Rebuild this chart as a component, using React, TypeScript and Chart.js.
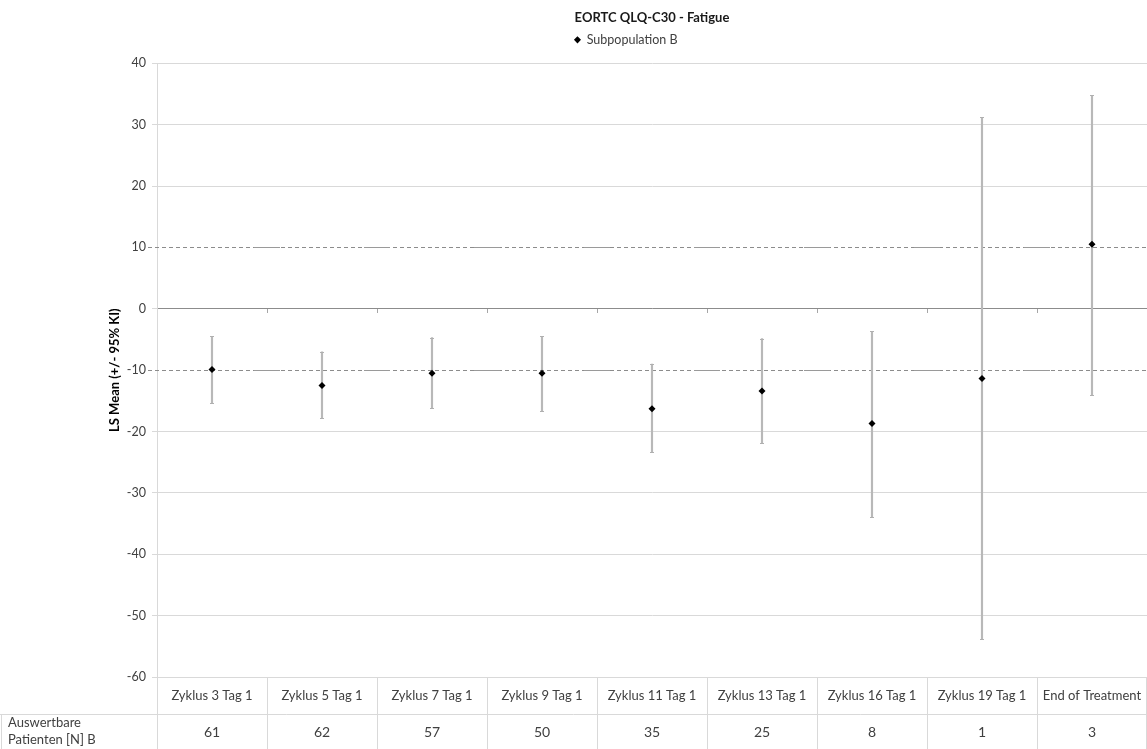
import React, { useEffect, useRef } from 'react';
import { Chart, registerables } from 'chart.js';

Chart.register(...registerables);

const TITLE = 'EORTC QLQ-C30 - Fatigue';
const SERIES_LABEL = 'Subpopulation B';
const Y_TITLE = 'LS Mean (+/- 95% KI)';
const CATEGORIES = [
  'Zyklus 3 Tag 1',
  'Zyklus 5 Tag 1',
  'Zyklus 7 Tag 1',
  'Zyklus 9 Tag 1',
  'Zyklus 11 Tag 1',
  'Zyklus 13 Tag 1',
  'Zyklus 16 Tag 1',
  'Zyklus 19 Tag 1',
  'End of Treatment',
];
const LS_MEAN = [-9.9, -12.5, -10.5, -10.5, -16.3, -13.4, -18.7, -11.35, 10.5];
const CI_LOWER = [-15.4, -17.8, -16.2, -16.6, -23.4, -21.9, -33.9, -53.8, -14.0];
const CI_UPPER = [-4.5, -7.0, -4.7, -4.5, -9.0, -4.85, -3.7, 31.2, 34.8];
const N_PATIENTS = [61, 62, 57, 50, 35, 25, 8, 1, 3];
const N_ROW_LABEL = ['Auswertbare', 'Patienten [N] B'];
const REFERENCE_LINES = [10, -10];
const Y_MIN = -60;
const Y_MAX = 40;
const Y_STEP = 10;

const FONT = 'Lato, "Open Sans", "DejaVu Sans", sans-serif';
const W = 1147;
const H = 749;
const ROW1_H = 37;
const GRID = '#d9d9d9';

const refLinesPlugin = {
  id: 'refLines',
  beforeDatasetsDraw(chart: any) {
    const { ctx, chartArea, scales } = chart;
    const y = scales.y;
    const x = scales.x;
    ctx.save();
    REFERENCE_LINES.forEach((v) => {
      const py = Math.round(y.getPixelForValue(v)) + 0.5;
      ctx.strokeStyle = '#8c8c8c';
      ctx.lineWidth = 1;
      ctx.setLineDash([4, 3]);
      ctx.beginPath();
      ctx.moveTo(chartArea.left - 9, py);
      ctx.lineTo(chartArea.right, py);
      ctx.stroke();
      ctx.setLineDash([]);
      ctx.strokeStyle = '#9a9a9a';
      for (let i = 1; i < CATEGORIES.length; i++) {
        const bx = (x.getPixelForValue(i - 1) + x.getPixelForValue(i)) / 2;
        ctx.beginPath();
        ctx.moveTo(bx - 13, py);
        ctx.lineTo(bx + 13, py);
        ctx.stroke();
      }
    });
    ctx.restore();
  },
};

const errorCapsPlugin = {
  id: 'errorCaps',
  afterDatasetsDraw(chart: any) {
    const { ctx, scales } = chart;
    const x = scales.x;
    const y = scales.y;
    ctx.save();
    ctx.strokeStyle = '#b0b0b0';
    ctx.lineWidth = 1;
    CATEGORIES.forEach((_, i) => {
      const px = x.getPixelForValue(i);
      [CI_LOWER[i], CI_UPPER[i]].forEach((v) => {
        const py = Math.round(y.getPixelForValue(v)) + 0.5;
        ctx.beginPath();
        ctx.moveTo(px - 2, py);
        ctx.lineTo(px + 2, py);
        ctx.stroke();
      });
    });
    ctx.restore();
  },
};

const tablePlugin = {
  id: 'nTable',
  afterDraw(chart: any) {
    const { ctx, chartArea, scales } = chart;
    const x = scales.x;
    const top = chartArea.bottom;
    const mid = top + ROW1_H;
    const bottom = H;
    const half = (x.getPixelForValue(1) - x.getPixelForValue(0)) / 2;
    ctx.save();
    ctx.strokeStyle = GRID;
    ctx.lineWidth = 1;
    ctx.beginPath();
    ctx.moveTo(chartArea.left, top + 0.5);
    ctx.lineTo(chartArea.right, top + 0.5);
    ctx.moveTo(0, mid + 0.5);
    ctx.lineTo(chartArea.right, mid + 0.5);
    ctx.moveTo(1.5, mid);
    ctx.lineTo(1.5, bottom);
    ctx.stroke();
    for (let i = 0; i <= CATEGORIES.length; i++) {
      const bx = Math.min(Math.round(x.getPixelForValue(i) - half) + 0.5, W - 0.5);
      ctx.beginPath();
      ctx.moveTo(bx, top);
      ctx.lineTo(bx, bottom);
      ctx.stroke();
    }
    ctx.fillStyle = '#404040';
    ctx.textAlign = 'center';
    ctx.textBaseline = 'middle';
    ctx.font = `13px ${FONT}`;
    CATEGORIES.forEach((c, i) => {
      ctx.fillText(c, x.getPixelForValue(i), top + ROW1_H / 2);
    });
    ctx.font = `14px ${FONT}`;
    N_PATIENTS.forEach((n, i) => {
      ctx.fillText(String(n), x.getPixelForValue(i), mid + (bottom - mid) / 2 + 1);
    });
    ctx.textAlign = 'left';
    ctx.font = `13px ${FONT}`;
    ctx.fillText(N_ROW_LABEL[0], 8, mid + 9);
    ctx.fillText(N_ROW_LABEL[1], 8, mid + 26);
    ctx.restore();
  },
};

export default function App() {
  const ref = useRef<HTMLCanvasElement | null>(null);

  useEffect(() => {
    if (!ref.current) return;
    const chart = new Chart(ref.current, {
      type: 'bar',
      data: {
        labels: CATEGORIES,
        datasets: [
          {
            type: 'line',
            label: SERIES_LABEL,
            data: LS_MEAN,
            showLine: false,
            pointStyle: 'rectRot',
            pointRadius: 3.5,
            pointBackgroundColor: '#000000',
            pointBorderColor: '#000000',
            pointBorderWidth: 0,
            backgroundColor: '#000000',
            borderColor: '#000000',
            order: 0,
          } as any,
          {
            type: 'bar',
            label: 'KI',
            data: CATEGORIES.map((_, i) => [CI_LOWER[i], CI_UPPER[i]]),
            backgroundColor: '#b8b8b8',
            borderWidth: 0,
            barThickness: 1.5,
            order: 1,
          } as any,
        ],
      },
      options: {
        responsive: false,
        animation: false,
        layout: { autoPadding: false, padding: { left: 105, right: 0, top: 0, bottom: H - 677 } },
        plugins: {
          title: {
            display: true,
            text: TITLE,
            fullSize: false,
            color: '#1a1a1a',
            font: { family: FONT, size: 13, weight: 'bold' },
            padding: { top: 10, bottom: 0 },
          },
          legend: {
            display: true,
            fullSize: true,
            weight: 1800,
            labels: {
              filter: (item: any) => item.datasetIndex === 0,
              usePointStyle: true,
              boxHeight: 5,
              boxWidth: 6,
              color: '#404040',
              font: { family: FONT, size: 12.5 },
              padding: 8,
            },
          } as any,
          subtitle: {
            display: true,
            text: '',
            fullSize: false,
            font: { size: 1 },
            padding: { top: 0, bottom: 6 },
          },
          tooltip: { enabled: false },
        },
        scales: {
          x: {
            type: 'category',
            position: { y: 0 } as any,
            offset: true,
            ticks: { display: false },
            grid: {
              offset: true,
              drawOnChartArea: false,
              drawTicks: true,
              tickLength: 4,
              color: '#a6a6a6',
            },
            border: { color: '#8c8c8c', width: 1 },
          },
          y: {
            type: 'linear',
            min: Y_MIN,
            max: Y_MAX,
            afterFit: (scale: any) => {
              scale.width = 52;
            },
            ticks: {
              stepSize: Y_STEP,
              color: '#404040',
              font: { family: FONT, size: 12.5 },
              padding: 6,
            },
            grid: {
              color: (c: any) =>
                c.tick && REFERENCE_LINES.includes(c.tick.value) ? 'rgba(0,0,0,0)' : GRID,
              tickLength: 5,
            },
            border: { color: GRID },
            title: {
              display: true,
              text: Y_TITLE,
              color: '#000000',
              font: { family: FONT, size: 13, weight: 'bold' },
              padding: { top: 2, bottom: 0 },
            },
          },
        },
      },
      plugins: [refLinesPlugin, errorCapsPlugin, tablePlugin],
    });
    return () => chart.destroy();
  }, []);

  return (
    <div style={{ position: 'absolute', left: 0, top: 0, width: W, height: H, background: '#fff' }}>
      <canvas ref={ref} width={W} height={H} style={{ width: W, height: H, display: 'block' }} />
    </div>
  );
}
